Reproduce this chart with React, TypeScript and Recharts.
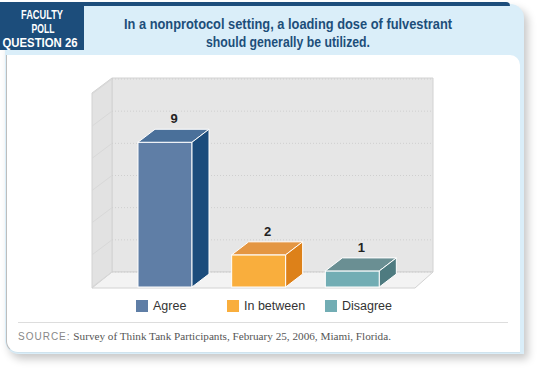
import { BarChart, Bar, XAxis, YAxis, CartesianGrid, LabelList, Cell } from 'recharts';

const categories = ['Agree', 'In between', 'Disagree'];
const responses = [9, 2, 1];
const gridValues = [2, 4, 6, 8, 10];
const yDomain: [number, number] = [0, 12];

const frontColors = ['#5f7ea6', '#f9ae3d', '#72adb4'];
const topColors = ['#4a709a', '#e49642', '#6a8f93'];
const sideColors = ['#1b4c7c', '#dd8119', '#4e7b80'];

const data = categories.map((name, i) => ({ name, value: responses[i] }));

// depth of the bars and of the box
const DX = 17;
const DY = 13;
const BOX_DY = 15;

const Bar3D = (props: any) => {
  const { x, y, width, height, index } = props;
  const w = width;
  const h = height;
  return (
    <g stroke="#ffffff" strokeWidth={1}>
      <rect x={x} y={y} width={w} height={h} fill={frontColors[index]} />
      <polygon
        points={`${x},${y} ${x + DX},${y - DY} ${x + w + DX},${y - DY} ${x + w},${y}`}
        fill={topColors[index]}
      />
      <polygon
        points={`${x + w},${y} ${x + w + DX},${y - DY} ${x + w + DX},${y + h - DY} ${x + w},${y + h}`}
        fill={sideColors[index]}
      />
    </g>
  );
};

// gridline drawn on the back wall and the left wall of the box
const GridLine3D = (props: any) => {
  const y = props.y1 - BOX_DY;
  return (
    <g key={`g-${props.index}-${props.y1}`}>
      <line x1={112} y1={y} x2={433} y2={y} stroke="#cfcfcf" strokeDasharray="1 2" />
      <line x1={112} y1={y} x2={92} y2={y + BOX_DY} stroke="#d8d8d8" />
    </g>
  );
};

const ValueLabel = (props: any) => {
  const { x, y, width, value } = props;
  return (
    <text
      x={x + width / 2 + 9}
      y={y - DY - 6}
      textAnchor="middle"
      fontFamily="'Liberation Sans', Arial, sans-serif"
      fontWeight="bold"
      fontSize={13}
      fill="#222"
    >
      {value}
    </text>
  );
};

const legendLeft = [136, 227, 325];
const sans = "'Liberation Sans', Arial, sans-serif";

export default function App() {
  return (
    <div style={{ position: 'fixed', left: 0, top: 0, width: 540, height: 369, background: '#ffffff', overflow: 'hidden' }}>
      {/* light blue card with shadow */}
      <div
        style={{
          position: 'absolute',
          left: 5,
          top: 4,
          width: 519,
          height: 350,
          background: '#daeef9',
          borderTopRightRadius: 14,
          borderBottomLeftRadius: 14,
          boxShadow: '4px 5px 9px rgba(0,0,0,0.22)'
        }}
      />
      <div style={{ position: 'absolute', left: 0, top: 2, width: 510, height: 4, background: '#1c4d7b', borderTopRightRadius: 4 }} />
      <div style={{ position: 'absolute', left: 0, top: 2, width: 84, height: 48, background: '#1c4d7b' }} />
      {/* white panel */}
      <div
        style={{
          position: 'absolute',
          left: 6,
          top: 55,
          width: 514,
          height: 298,
          background: '#ffffff',
          borderTopRightRadius: 10,
          borderBottomLeftRadius: 12,
          borderLeft: '1px solid #bdbdbd',
          borderBottom: '1px solid #cfe3ee',
          boxSizing: 'border-box'
        }}
      />
      <div style={{ position: 'absolute', left: 18, top: 322, width: 490, height: 1, background: '#dddddd' }} />
      <div
        style={{
          position: 'absolute',
          left: 18,
          top: 330,
          whiteSpace: 'nowrap',
          color: '#555',
          fontFamily: "'Liberation Serif', serif",
          fontSize: 11.2
        }}
      >
        <span style={{ fontFamily: sans, fontSize: 10, color: '#888', letterSpacing: 1 }}>SOURCE:</span>{' '}
        Survey of Think Tank Participants, February 25, 2006, Miami, Florida.
      </div>
      {/* header texts and 3D chart box */}
      <svg width={540} height={369} style={{ position: 'absolute', left: 0, top: 0 }}>
        <g fill="#ffffff" fontFamily={sans} fontWeight="bold" fontSize={12.5} textAnchor="middle">
          <text x={42} y={19} textLength={42} lengthAdjust="spacingAndGlyphs">FACULTY</text>
          <text x={43} y={33} textLength={23} lengthAdjust="spacingAndGlyphs">POLL</text>
          <text x={40} y={47} textLength={75} lengthAdjust="spacingAndGlyphs">QUESTION 26</text>
        </g>
        <g fill="#1d4e7a" fontFamily={sans} fontWeight="bold" fontSize={15.5} textAnchor="middle">
          <text x={288} y={29} textLength={328} lengthAdjust="spacingAndGlyphs">
            In a nonprotocol setting, a loading dose of fulvestrant
          </text>
          <text x={288} y={47} textLength={164} lengthAdjust="spacingAndGlyphs">
            should generally be utilized.
          </text>
        </g>
        <polygon points="112,78 433,78 433,272 112,272" fill="#e6e6e6" stroke="#d2d2d2" />
        <polygon points="92,93 112,78 112,272 92,288" fill="#e2e2e2" stroke="#d2d2d2" />
        <polygon points="92,288 112,272 433,272 415,288" fill="#f3f3f3" stroke="#d2d2d2" />
      </svg>
      <div style={{ position: 'absolute', left: 0, top: 0 }}>
        <BarChart width={540} height={369} data={data} margin={{ top: 94, right: 141, bottom: 82, left: 118 }}>
          <CartesianGrid vertical={false} horizontal={GridLine3D} />
          <XAxis dataKey="name" hide />
          <YAxis domain={yDomain} ticks={gridValues} hide />
          <Bar dataKey="value" barSize={54} shape={Bar3D} isAnimationActive={false}>
            {data.map((d, i) => (
              <Cell key={d.name} fill={frontColors[i]} />
            ))}
            <LabelList dataKey="value" content={ValueLabel} />
          </Bar>
        </BarChart>
      </div>
      {/* legend */}
      {categories.map((c, i) => (
        <div
          key={c}
          style={{
            position: 'absolute',
            left: legendLeft[i],
            top: 299,
            display: 'flex',
            alignItems: 'center',
            fontFamily: sans,
            fontSize: 12.5,
            color: '#333',
            whiteSpace: 'nowrap'
          }}
        >
          <span style={{ width: 12, height: 12, background: frontColors[i], marginRight: 5, display: 'inline-block' }} />
          {c}
        </div>
      ))}
    </div>
  );
}
